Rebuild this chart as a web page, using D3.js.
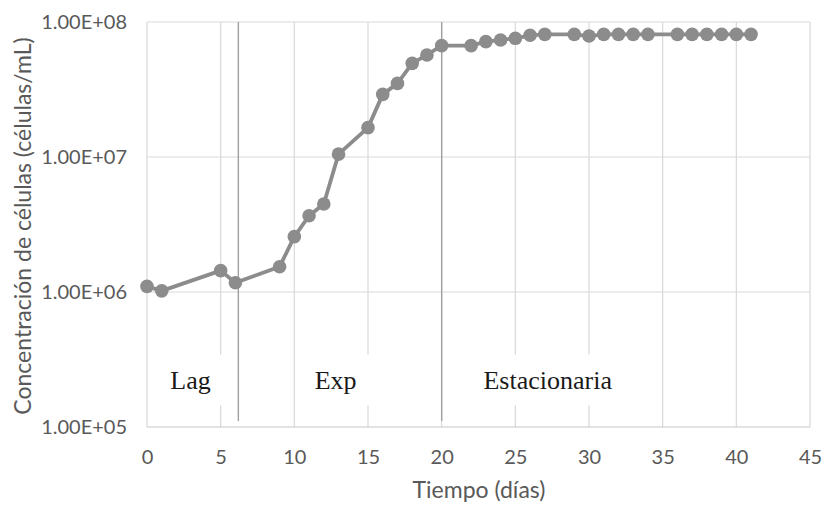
<!DOCTYPE html>
<html>
<head>
<meta charset="utf-8">
<script src="https://cdn.jsdelivr.net/npm/d3@7"></script>
<style>
  html, body { margin: 0; padding: 0; background: #ffffff; }
  svg { display: block; }
</style>
</head>
<body>
<svg id="chart" width="822" height="506"></svg>
<script>
// Growth curve: cell concentration (log scale) over time in days
const days = [0, 1, 5, 6, 9, 10, 11, 12, 13, 15, 16, 17, 18, 19, 20, 22, 23, 24, 25, 26, 27,
              29, 30, 31, 32, 33, 34, 36, 37, 38, 39, 40, 41];
const cells = [1.10e6, 1.02e6, 1.44e6, 1.17e6, 1.54e6, 2.57e6, 3.67e6, 4.49e6, 1.05e7, 1.65e7,
               2.91e7, 3.51e7, 4.94e7, 5.70e7, 6.68e7, 6.68e7, 7.15e7, 7.36e7, 7.57e7, 7.97e7,
               8.10e7, 8.10e7, 7.87e7, 8.10e7, 8.10e7, 8.10e7, 8.10e7, 8.10e7, 8.10e7, 8.10e7,
               8.10e7, 8.10e7, 8.10e7];

const xTicks = [0, 5, 10, 15, 20, 25, 30, 35, 40, 45];
const yTicks = [1e5, 1e6, 1e7, 1e8];

// Growth phases: boundaries (days) and labels placed at a day position
const phaseBounds = [6.2, 20];
const phaseNames = ["Lag", "Exp", "Estacionaria"];
const phaseLabelDay = [2.95, 12.8, 27.2];

const xTitle = "Tiempo (días)";
const yTitle = "Concentración de células (células/mL)";

const W = 822, H = 506;
const margin = { top: 22, right: 12, bottom: 79, left: 147 };
const iw = W - margin.left - margin.right;
const ih = H - margin.top - margin.bottom;

const svg = d3.select("#chart");
const g = svg.append("g").attr("transform", `translate(${margin.left},${margin.top})`);

const x = d3.scaleLinear().domain([0, 45]).range([0, iw]);
const y = d3.scaleLog().domain([1e5, 1e8]).range([ih, 0]);

const labelFont = "Lato, 'Open Sans', sans-serif";
const textColor = "#595959";
const gridColor = "#d9d9d9";

// Gridlines
g.append("g").selectAll("line.v").data(xTicks.slice(1)).join("line")
  .attr("x1", d => x(d)).attr("x2", d => x(d))
  .attr("y1", 0).attr("y2", ih)
  .attr("stroke", gridColor).attr("stroke-width", 1.2);
g.append("g").selectAll("line.h").data(yTicks.slice(1)).join("line")
  .attr("x1", 0).attr("x2", iw)
  .attr("y1", d => y(d)).attr("y2", d => y(d))
  .attr("stroke", gridColor).attr("stroke-width", 1.2);

// Plot frame
g.append("line").attr("x1", 0).attr("x2", 0).attr("y1", 0).attr("y2", ih)
  .attr("stroke", gridColor).attr("stroke-width", 1.2);
g.append("line").attr("x1", 0).attr("x2", iw).attr("y1", ih).attr("y2", ih)
  .attr("stroke", "#c8c8c8").attr("stroke-width", 1.2);

// Phase labels in white text boxes
const labelY = y(1.9e5);
const boxW = [72, 72, 155];
phaseNames.forEach((name, i) => {
  const cx = x(phaseLabelDay[i]);
  g.append("rect")
    .attr("x", cx - boxW[i] / 2).attr("y", labelY - 35)
    .attr("width", boxW[i]).attr("height", 51)
    .attr("fill", "#ffffff");
  g.append("text")
    .attr("x", cx).attr("y", labelY)
    .attr("text-anchor", "middle")
    .attr("font-family", "'Liberation Serif', 'Times New Roman', serif")
    .attr("font-size", 26)
    .attr("fill", "#1a1a1a")
    .text(name);
});

// Phase boundary lines
g.append("g").selectAll("line").data(phaseBounds).join("line")
  .attr("x1", d => x(d)).attr("x2", d => x(d))
  .attr("y1", 0).attr("y2", ih - 6)
  .attr("stroke", "#a0a0a0").attr("stroke-width", 1.4);

// Axes
const fmtSci = d => {
  const e = Math.round(Math.log10(d));
  const m = d / Math.pow(10, e);
  return m.toFixed(2) + "E" + (e < 0 ? "-" : "+") + String(Math.abs(e)).padStart(2, "0");
};

const yAxis = g.append("g")
  .call(d3.axisLeft(y).tickValues(yTicks).tickFormat(fmtSci).tickSize(0).tickPadding(20));
yAxis.select(".domain").remove();
yAxis.selectAll("text")
  .attr("font-family", labelFont).attr("font-size", 20).attr("fill", textColor);

const xAxis = g.append("g").attr("transform", `translate(0,${ih})`)
  .call(d3.axisBottom(x).tickValues(xTicks).tickFormat(d3.format("d")).tickSize(0).tickPadding(22.5));
xAxis.select(".domain").remove();
xAxis.selectAll("text")
  .attr("font-family", labelFont).attr("font-size", 20).attr("fill", textColor);

// Axis titles
svg.append("text")
  .attr("x", margin.left + iw / 2 + 0.5).attr("y", 498)
  .attr("text-anchor", "middle")
  .attr("font-family", labelFont).attr("font-size", 23).attr("fill", textColor)
  .text(xTitle);

svg.append("text")
  .attr("transform", `translate(31,${margin.top + ih / 2 + 1.5}) rotate(-90)`)
  .attr("text-anchor", "middle")
  .attr("font-family", labelFont).attr("font-size", 23).attr("fill", textColor)
  .text(yTitle);

// Series line and markers
const series = days.map((d, i) => ({ day: d, value: cells[i] }));
const seriesColor = "#8c8c8c";

g.append("path")
  .datum(series)
  .attr("fill", "none")
  .attr("stroke", seriesColor)
  .attr("stroke-width", 3.8)
  .attr("stroke-linejoin", "round")
  .attr("d", d3.line().x(d => x(d.day)).y(d => y(d.value)));

g.append("g").selectAll("circle").data(series).join("circle")
  .attr("cx", d => x(d.day))
  .attr("cy", d => y(d.value))
  .attr("r", 6.8)
  .attr("fill", seriesColor);
</script>
</body>
</html>
